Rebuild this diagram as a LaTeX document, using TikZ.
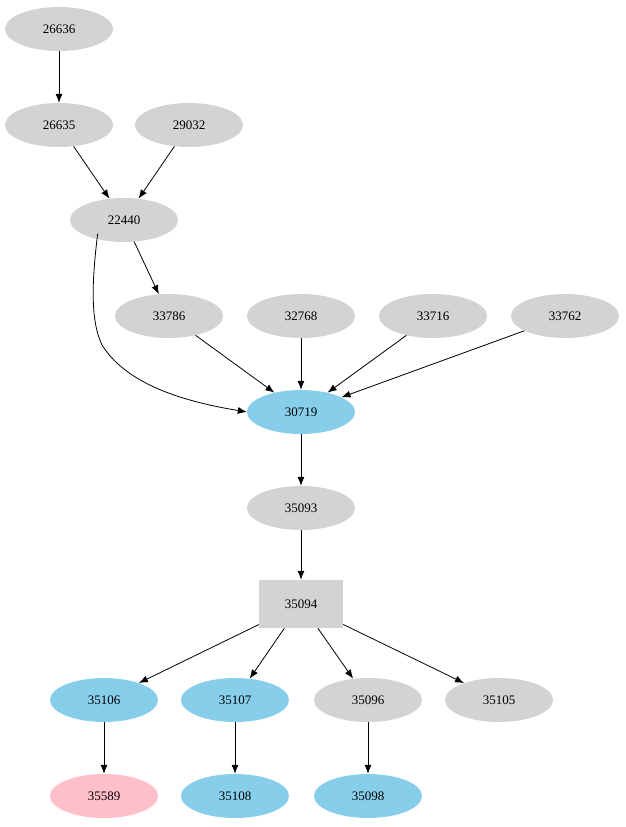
\documentclass[tikz,border=0pt]{standalone}
\usepackage{fontspec}
\setmainfont{Liberation Serif}
\usetikzlibrary{shapes.geometric,arrows.meta}
\definecolor{lg}{HTML}{D3D3D3}
\definecolor{sb}{HTML}{87CEEB}
\definecolor{pk}{HTML}{FFC0CB}
\begin{document}
\begin{tikzpicture}[x=1pt,y=-1pt,
  el/.style={ellipse,fill=#1,minimum width=108pt,minimum height=44pt,inner sep=0pt,font=\fontsize{13}{15}\selectfont},
  bx/.style={rectangle,fill=lg,minimum width=84pt,minimum height=48pt,inner sep=0pt,font=\fontsize{13}{15}\selectfont},
  ar/.style={-{Latex[length=9pt,width=7pt]},line width=0.8pt}]
\useasboundingbox (0,0) rectangle (625,827);
\node[el=lg] (a) at (59,29) {26636};
\node[el=lg] (b) at (59,125) {26635};
\node[el=lg] (c) at (189,125) {29032};
\node[el=lg] (d) at (124,220) {22440};
\node[el=lg] (e) at (169,316) {33786};
\node[el=lg] (f) at (301,316) {32768};
\node[el=lg] (g) at (433,316) {33716};
\node[el=lg] (h) at (565,316) {33762};
\node[el=sb] (i) at (301,412) {30719};
\node[el=lg] (j) at (301,508) {35093};
\node[bx] (k) at (301,604) {35094};
\node[el=sb] (l) at (104,700) {35106};
\node[el=sb] (m) at (235,700) {35107};
\node[el=lg] (n) at (368,700) {35096};
\node[el=lg] (o) at (499,700) {35105};
\node[el=pk] (p) at (104,796) {35589};
\node[el=sb] (q) at (235,796) {35108};
\node[el=sb] (r) at (368,796) {35098};
\draw[ar] (a)--(b);
\draw[ar] (b)--(d);
\draw[ar] (c)--(d);
\draw[ar] (d)--(e);
\draw[ar] (d.south west) ++(12,-2) .. controls (92,280) and (90,320) .. (102,345) .. controls (130,390) and (200,404) .. (i.west);
\draw[ar] (e)--(i);
\draw[ar] (f)--(i);
\draw[ar] (g)--(i);
\draw[ar] (h)--(i);
\draw[ar] (i)--(j);
\draw[ar] (j)--(k);
\draw[ar] (k)--(l);
\draw[ar] (k)--(m);
\draw[ar] (k)--(n);
\draw[ar] (k)--(o);
\draw[ar] (l)--(p);
\draw[ar] (m)--(q);
\draw[ar] (n)--(r);
\end{tikzpicture}
\end{document}
